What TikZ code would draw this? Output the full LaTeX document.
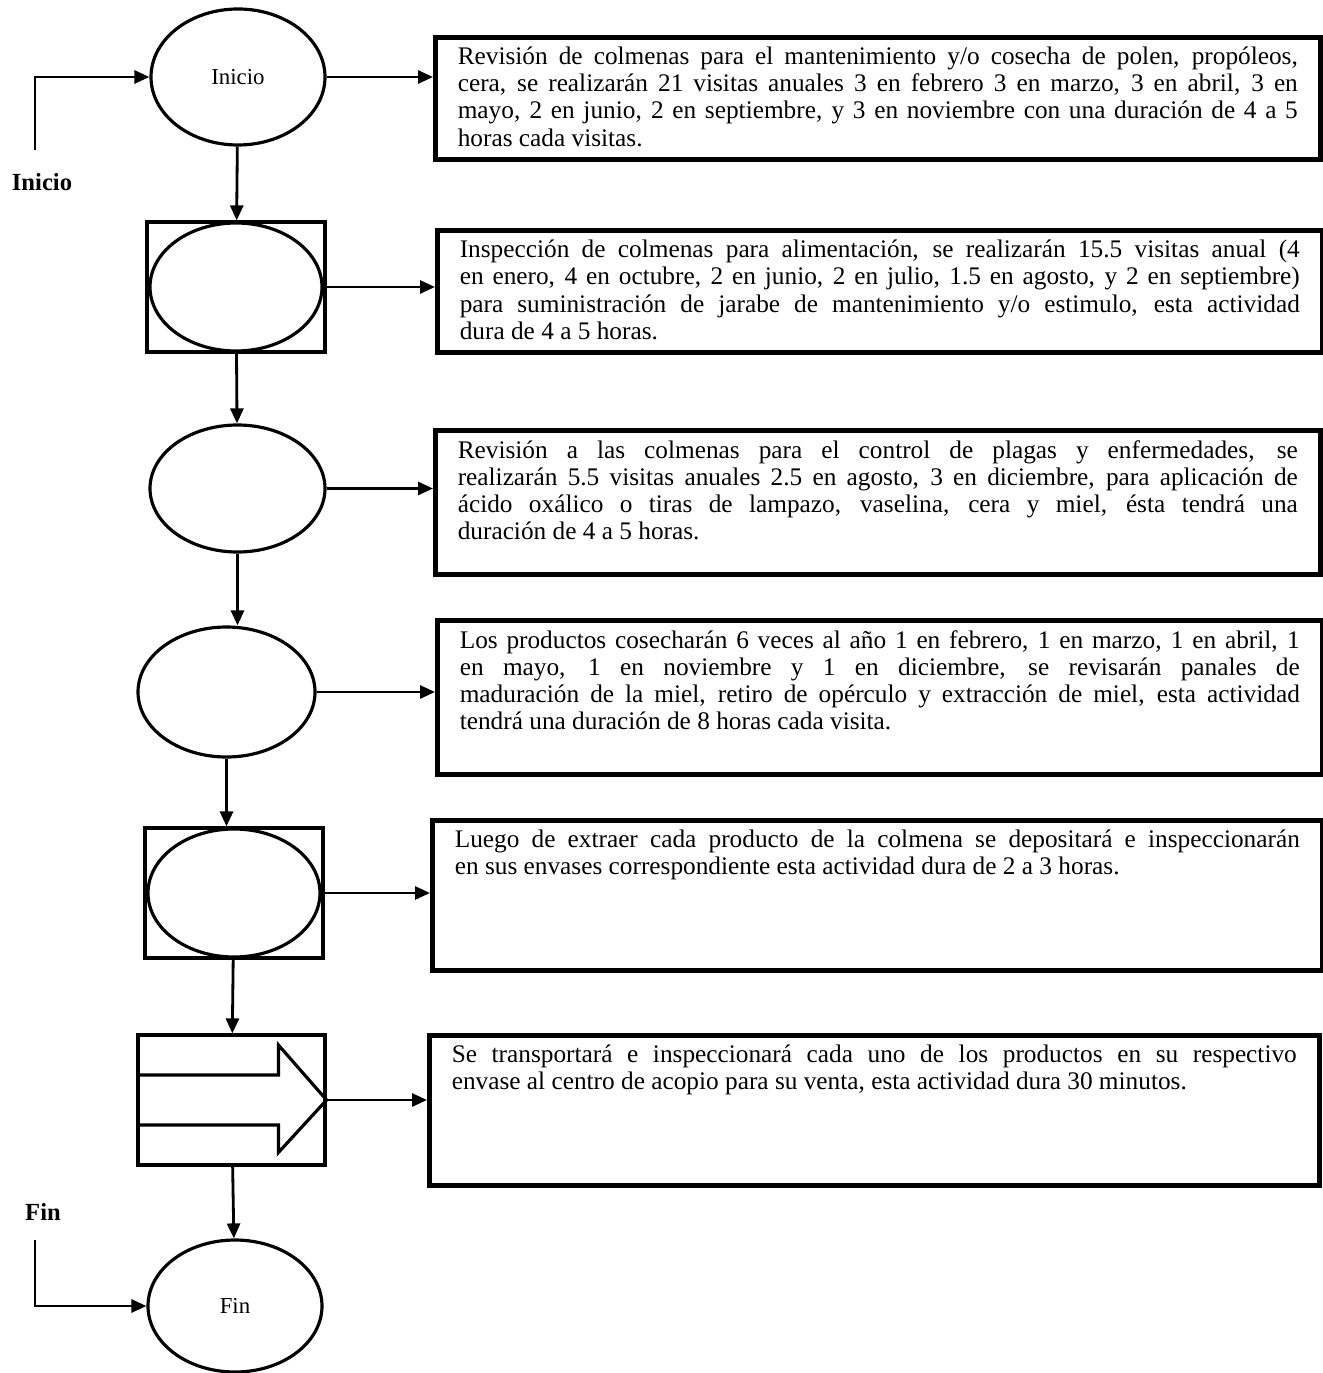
\documentclass[tikz,border=0pt]{standalone}
\usepackage{fontspec}
\setmainfont{Liberation Serif}
\usetikzlibrary{arrows.meta,shapes.geometric}

\begin{document}
\begin{tikzpicture}
[act/.style={ellipse,draw,line width=1.8pt,minimum width=3.5cm,minimum height=2.6cm,inner sep=0pt,font=\fontsize{13}{15}\selectfont}
,frame/.style={rectangle,draw,line width=1.8pt,minimum width=3.56cm,minimum height=2.6cm,inner sep=0pt}
,desc/.style={rectangle,draw,line width=2.6pt,anchor=north west,inner xsep=0.45cm,inner ysep=0.2cm,font=\fontsize{14.4}{15.4}\selectfont}
,fe/.style={line width=1.6pt,arrows={-Triangle[length=0.3cm,width=0.26cm]}}
,tag/.style={font=\fontsize{14}{16}\selectfont\bfseries}
]
\useasboundingbox (0,0) rectangle (26.44,-27.46);

% steps of the process
\node[act,minimum width=3.48cm,minimum height=2.72cm] (e1) at (4.76,-1.54) {Inicio};
\node[frame] (r2) at (4.72,-5.74) {};
\node[act,minimum width=3.44cm,minimum height=2.56cm] (e2) at (4.72,-5.74) {};
\node[act,minimum height=2.54cm] (e3) at (4.75,-9.77) {};
\node[act,minimum width=3.54cm] (e4) at (4.53,-13.84) {};
\node[frame] (r5) at (4.68,-17.86) {};
\node[act,minimum width=3.44cm,minimum height=2.56cm] (e5) at (4.68,-17.86) {};
\node[frame,minimum width=3.74cm] (r6) at (4.63,-22.0) {};
\node[act,minimum width=3.48cm,minimum height=2.64cm] (e7) at (4.70,-26.12) {Fin};

% block arrow of the transport step
\draw[line width=1.8pt] ([yshift=0.5cm]r6.west) -- ++(2.84,0) -- ++(0,0.6)
  -- (r6.east) -- ([shift={(2.84,-1.05)}]r6.west) -- ++(0,0.55)
  -- ([yshift=-0.5cm]r6.west);

% descriptions
\node[desc] (b1) at (8.66,-0.7) {\parbox[t][2.04cm][t]{16.8cm}{Revisión de colmenas para el mantenimiento y/o cosecha de polen, propóleos,\linebreak cera, se realizarán 21 visitas anuales 3 en febrero 3 en marzo, 3 en abril, 3 en\linebreak mayo, 2 en junio, 2 en septiembre, y 3 en noviembre con una duración de 4 a 5\linebreak horas cada visitas.}};
\node[desc] (b2) at (8.70,-4.56) {\parbox[t][2.04cm][t]{16.8cm}{Inspección de colmenas para alimentación, se realizarán 15.5 visitas anual (4\linebreak en enero, 4 en octubre, 2 en junio, 2 en julio, 1.5 en agosto, y 2 en septiembre)\linebreak para suministración de jarabe de mantenimiento y/o estimulo, esta actividad\linebreak dura de 4 a 5 horas.}};
\node[desc] (b3) at (8.66,-8.56) {\parbox[t][2.48cm][t]{16.8cm}{Revisión a las colmenas para el control de plagas y enfermedades, se\linebreak realizarán 5.5 visitas anuales 2.5 en agosto, 3 en diciembre, para aplicación de\linebreak ácido oxálico o tiras de lampazo, vaselina, cera y miel, ésta tendrá una\linebreak duración de 4 a 5 horas.}};
\node[desc] (b4) at (8.70,-12.36) {\parbox[t][2.68cm][t]{16.8cm}{Los productos cosecharán 6 veces al año 1 en febrero, 1 en marzo, 1 en abril, 1\linebreak en mayo, 1 en noviembre y 1 en diciembre, se revisarán panales de\linebreak maduración de la miel, retiro de opérculo y extracción de miel, esta actividad\linebreak tendrá una duración de 8 horas cada visita.}};
\node[desc] (b5) at (8.60,-16.36) {\parbox[t][2.6cm][t]{16.9cm}{Luego de extraer cada producto de la colmena se depositará e inspeccionarán\linebreak en sus envases correspondiente esta actividad dura de 2 a 3 horas.}};
\node[desc] (b6) at (8.54,-20.66) {\parbox[t][2.6cm][t]{16.9cm}{Se transportará e inspeccionará cada uno de los productos en su respectivo\linebreak envase al centro de acopio para su venta, esta actividad dura 30 minutos.}};

% start and end
\node[tag] (lini) at (0.84,-3.64) {Inicio};
\node[tag] (lfin) at (0.86,-24.24) {Fin};
\coordinate (sini) at (0.7,-3.0);
\coordinate (sfin) at (0.7,-24.8);
\draw[fe] (sini) |- (e1.west);
\draw[fe] (sfin) |- (e7.west);

\draw[fe] (e1) -- (r2);
\draw[fe] (r2) -- (e3);
\draw[fe] (e3.south) -- (e3.south |- e4.north);
\draw[fe] (e4.south) -- (e4.south |- r5.north);
\draw[fe] (r5) -- (r6);
\draw[fe] (r6) -- (e7);

\draw[fe] (e1.east) -- (e1.east -| b1.west);
\draw[fe] (r2.east) -- (r2.east -| b2.west);
\draw[fe] (e3.east) -- (e3.east -| b3.west);
\draw[fe] (e4.east) -- (e4.east -| b4.west);
\draw[fe] (r5.east) -- (r5.east -| b5.west);
\draw[fe] (r6.east) -- (r6.east -| b6.west);
\end{tikzpicture}
\end{document}
